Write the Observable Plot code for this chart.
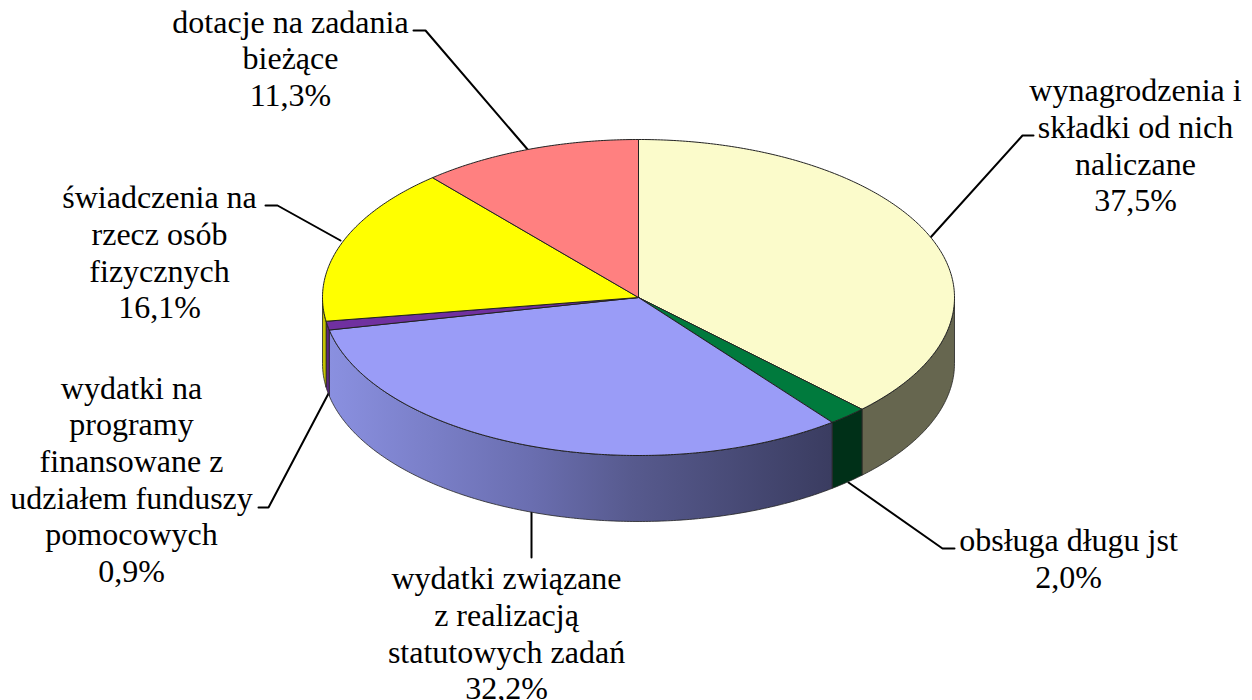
<!DOCTYPE html>
<html><head><meta charset="utf-8">
<style>html,body{margin:0;padding:0;background:#fff}svg{display:block}</style>
<script src="https://cdn.jsdelivr.net/npm/d3@7"></script>
<script src="https://cdn.jsdelivr.net/npm/@observablehq/plot@0.6"></script>
</head><body><div id="chart"></div>
<script>
const categories = ["wynagrodzenia i składki od nich naliczane","obsługa długu jst","wydatki związane z realizacją statutowych zadań","wydatki na programy finansowane z udziałem funduszy pomocowych","świadczenia na rzecz osób fizycznych","dotacje na zadania bieżące"];
const values = [37.5,2.0,32.2,0.9,16.1,11.3];
const labelLines = [
  ["wynagrodzenia i","składki od nich","naliczane"],
  ["obsługa długu jst"],
  ["wydatki związane","z realizacją","statutowych zadań"],
  ["wydatki na","programy","finansowane z","udziałem funduszy","pomocowych"],
  ["świadczenia na","rzecz osób","fizycznych"],
  ["dotacje na zadania","bieżące"]
];
const topColors = ["#FBFBCB","#007A3D","#9A9CF7","#7030A0","#FFFF00","#FF8080"];
const sideColors = ["#66664F","#003018","url(#blueSide)","#5A2680","#C4C400","#A05050"];
// layout only
const pie3d = {cx:638, cy:297, rx:316, ry:158, depth:66};
const labelX = [1135,1068,506,131,159,290];
const labelY = [144,557,632,478,251,57];
const leaders = [
  [[930,237],[1022,135],[1033,135]],
  [[848,482],[942,548],[954,548]],
  [[531,512],[531,557]],
  [[328,393],[268,507],[258,507]],
  [[340,240],[277,205],[265,205]],
  [[528,150],[425,30],[413,30]]
];

const total = d3.sum(values);
const pt = (a, dz=0) => [pie3d.cx + pie3d.rx*Math.sin(a), pie3d.cy - pie3d.ry*Math.cos(a) + dz];
const arc = (a0, a1, dz=0) => {
  const n = Math.max(2, Math.ceil((a1-a0)/0.01));
  return d3.range(n+1).map(i => pt(a0+(a1-a0)*i/n, dz));
};
let cum = 0;
const slices = values.map((v,i) => { const a0 = cum/total*2*Math.PI; cum += v; return {i, a0, a1: cum/total*2*Math.PI}; });
const tops = [], sides = [];
for (const s of slices) {
  const poly = [[pie3d.cx,pie3d.cy], ...arc(s.a0,s.a1), [pie3d.cx,pie3d.cy]];
  poly.forEach(([x,y]) => tops.push({x,y,i:s.i}));
  const lo = Math.max(s.a0, Math.PI/2), hi = Math.min(s.a1, 3*Math.PI/2);
  if (hi > lo) {
    const up = arc(lo,hi), down = arc(lo,hi,pie3d.depth).reverse();
    [...up, ...down, up[0]].forEach(([x,y]) => sides.push({x,y,i:s.i}));
  }
}
const leaderPts = leaders.flatMap((l,i) => l.map(([x,y]) => ({x,y,i})));
const labelRows = categories.map((c,i) => ({
  x: labelX[i], y: labelY[i],
  text: [...labelLines[i], values[i].toFixed(1).replace(".",",")+"%"].join("\n")
}));
const gradient = () => {
  const svg = d3.create("svg:g");
  const g = svg.append("defs").append("linearGradient").attr("id","blueSide")
    .attr("gradientUnits","userSpaceOnUse").attr("x1",329).attr("x2",833).attr("y1",0).attr("y2",0);
  [[0,"#8A90E0"],[0.4,"#6A6EB0"],[0.6,"#575A8E"],[1,"#3A3C60"]].forEach(([o,c]) => g.append("stop").attr("offset",o).attr("stop-color",c));
  return svg.node();
};
const chart = Plot.plot({
  width:1252, height:700, margin:0,
  style:{background:"#fff"},
  x:{domain:[0,1252],range:[0,1252],axis:null},
  y:{domain:[0,700],range:[0,700],axis:null},
  color:{type:"identity"},
  marks:[
    gradient,
    Plot.line(leaderPts,{x:"x",y:"y",z:"i",stroke:"#000",strokeWidth:2,curve:"linear",strokeLinejoin:"miter"}),
    Plot.line(sides,{x:"x",y:"y",z:"i",fill:d=>sideColors[d.i],stroke:"#222",strokeWidth:0.8,curve:"linear"}),
    Plot.line(tops,{x:"x",y:"y",z:"i",fill:d=>topColors[d.i],stroke:"#222",strokeWidth:1,curve:"linear"}),
    Plot.text(labelRows,{x:"x",y:"y",text:"text",fontFamily:"Liberation Serif",fontSize:32,lineHeight:1.145,fill:"#000",textAnchor:"middle"})
  ]
});
document.getElementById("chart").append(chart);
</script></body></html>
